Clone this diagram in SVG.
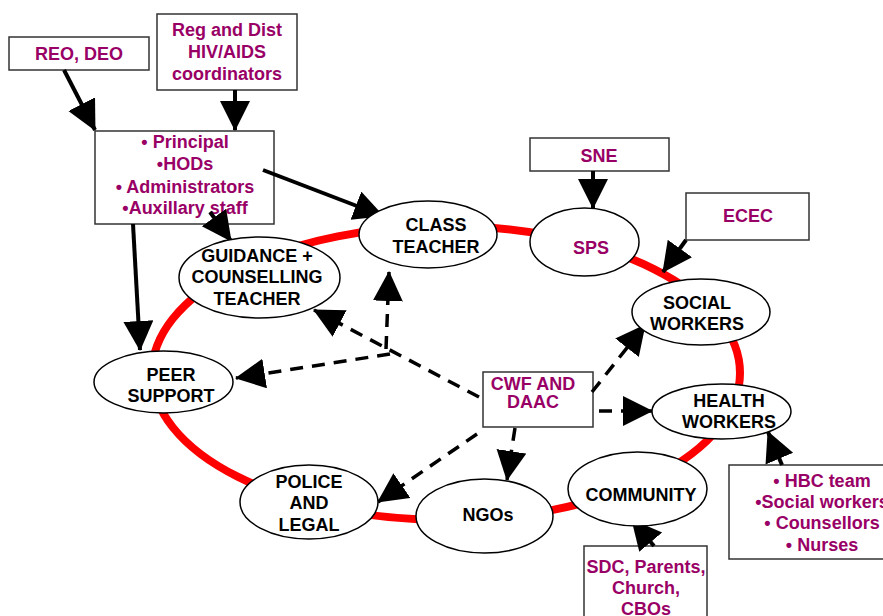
<svg xmlns="http://www.w3.org/2000/svg" width="883" height="616" viewBox="0 0 883 616">
  <defs>
    <style>
      .ring { fill: none; stroke: #ff0000; stroke-width: 8; }
      .node { fill: #ffffff; stroke: #000000; stroke-width: 1.5; }
      .box { fill: #ffffff; stroke: #333333; stroke-width: 1.5; }
      text { font-family: "Liberation Sans", Arial, sans-serif; font-size: 18px; font-weight: bold; text-anchor: middle; }
      .dark { fill: #000000; }
      .plum { fill: #990066; }
      .solid { fill: none; stroke: #000000; stroke-width: 4; marker-end: url(#head); }
      .dash { fill: none; stroke: #000000; stroke-width: 3.5; stroke-dasharray: 13 9; marker-end: url(#head); }
    </style>
    <marker id="head" markerUnits="userSpaceOnUse" markerWidth="32" markerHeight="32" refX="29" refY="15" orient="auto">
      <path d="M0,0 L30,15 L0,30 z" fill="#000000"/>
    </marker>
  </defs>

  <!-- red circle of care -->
  <ellipse class="ring" cx="446" cy="373" rx="294" ry="147"/>

  <!-- boxes -->
  <g id="reo-deo">
    <rect class="box" x="9" y="37" width="140" height="33"/>
    <text class="plum" x="79" y="60">REO, DEO</text>
  </g>
  <g id="hiv-coordinators">
    <rect class="box" x="157" y="14" width="140" height="76"/>
    <text class="plum" x="227" y="36">Reg and Dist</text>
    <text class="plum" x="227" y="58">HIV/AIDS</text>
    <text class="plum" x="227" y="80">coordinators</text>
  </g>
  <g id="school-management">
    <rect class="box" x="95" y="131" width="179" height="93"/>
    <text class="plum" x="185" y="148">• Principal</text>
    <text class="plum" x="185" y="170">•HODs</text>
    <text class="plum" x="185" y="193">• Administrators</text>
    <text class="plum" x="185" y="214">•Auxillary staff</text>
  </g>
  <g id="sne">
    <rect class="box" x="530" y="138" width="139" height="33"/>
    <text class="plum" x="599" y="162">SNE</text>
  </g>
  <g id="ecec">
    <rect class="box" x="686" y="193" width="123" height="47"/>
    <text class="plum" x="748" y="222">ECEC</text>
  </g>
  <g id="cwf-daac">
    <rect class="box" x="483" y="372" width="110" height="55"/>
    <text class="plum" x="533" y="390">CWF AND</text>
    <text class="plum" x="533" y="408">DAAC</text>
  </g>
  <g id="community-groups">
    <rect class="box" x="584" y="546" width="123" height="80"/>
    <text class="plum" x="646" y="573">SDC, Parents,</text>
    <text class="plum" x="646" y="594">Church,</text>
    <text class="plum" x="646" y="615">CBOs</text>
  </g>
  <g id="health-teams">
    <rect class="box" x="729" y="465" width="170" height="94"/>
    <text class="plum" x="822" y="487">• HBC team</text>
    <text class="plum" x="822" y="508">•Social workers</text>
    <text class="plum" x="822" y="529">• Counsellors</text>
    <text class="plum" x="822" y="551">• Nurses</text>
  </g>

  <!-- connectors -->
  <g id="connectors">
    <line class="solid" x1="64" y1="70" x2="95" y2="130"/>
    <line class="solid" x1="235" y1="90" x2="235" y2="130"/>
    <line class="solid" x1="263" y1="170" x2="383" y2="216"/>
    <line class="solid" x1="210" y1="212" x2="231" y2="241"/>
    <line class="solid" x1="133" y1="224" x2="140" y2="350"/>
    <line class="solid" x1="593" y1="171" x2="593" y2="208"/>
    <line class="solid" x1="686" y1="240" x2="663" y2="272"/>
    <line class="solid" x1="654" y1="546" x2="632" y2="520"/>
    <line class="solid" x1="782" y1="465" x2="768" y2="432"/>

    <path class="dash" d="M479,397 L314,310"/>
    <path class="dash" d="M386,349 L389,272"/>
    <path class="dash" d="M390,354 L236,378"/>
    <path class="dash" d="M592,392 L645,325"/>
    <path class="dash" d="M599,411 L652,411"/>
    <path class="dash" d="M515,428 L507,480"/>
    <path class="dash" d="M477,434 L378,502"/>
  </g>

  <!-- circle members -->
  <g id="class-teacher">
    <ellipse class="node" cx="428" cy="234.5" rx="69" ry="33.5"/>
    <text class="dark" x="436" y="231">CLASS</text>
    <text class="dark" x="436" y="253">TEACHER</text>
  </g>
  <g id="sps">
    <ellipse class="node" cx="584.5" cy="242" rx="54.5" ry="34"/>
    <text class="plum" x="591" y="254">SPS</text>
  </g>
  <g id="social-workers">
    <ellipse class="node" cx="701" cy="312" rx="69" ry="33"/>
    <text class="dark" x="697" y="309">SOCIAL</text>
    <text class="dark" x="697" y="330">WORKERS</text>
  </g>
  <g id="guidance">
    <ellipse class="node" cx="259.5" cy="277.5" rx="80.5" ry="40.5"/>
    <text class="dark" x="257" y="262">GUIDANCE +</text>
    <text class="dark" x="257" y="283">COUNSELLING</text>
    <text class="dark" x="257" y="305">TEACHER</text>
  </g>
  <g id="peer-support">
    <ellipse class="node" cx="163.5" cy="382" rx="69.5" ry="31"/>
    <text class="dark" x="171" y="381">PEER</text>
    <text class="dark" x="171" y="402">SUPPORT</text>
  </g>
  <g id="police-legal">
    <ellipse class="node" cx="309" cy="502" rx="69" ry="37"/>
    <text class="dark" x="309" y="488">POLICE</text>
    <text class="dark" x="309" y="509">AND</text>
    <text class="dark" x="309" y="531">LEGAL</text>
  </g>
  <g id="ngos">
    <ellipse class="node" cx="484.5" cy="516" rx="68.5" ry="37"/>
    <text class="dark" x="488" y="521">NGOs</text>
  </g>
  <g id="community">
    <ellipse class="node" cx="637.5" cy="489" rx="69.5" ry="37"/>
    <text class="dark" x="641" y="501">COMMUNITY</text>
  </g>
  <g id="health-workers">
    <ellipse class="node" cx="721.5" cy="411.5" rx="69.5" ry="27.5"/>
    <text class="dark" x="729" y="407">HEALTH</text>
    <text class="dark" x="729" y="428">WORKERS</text>
  </g>
</svg>
